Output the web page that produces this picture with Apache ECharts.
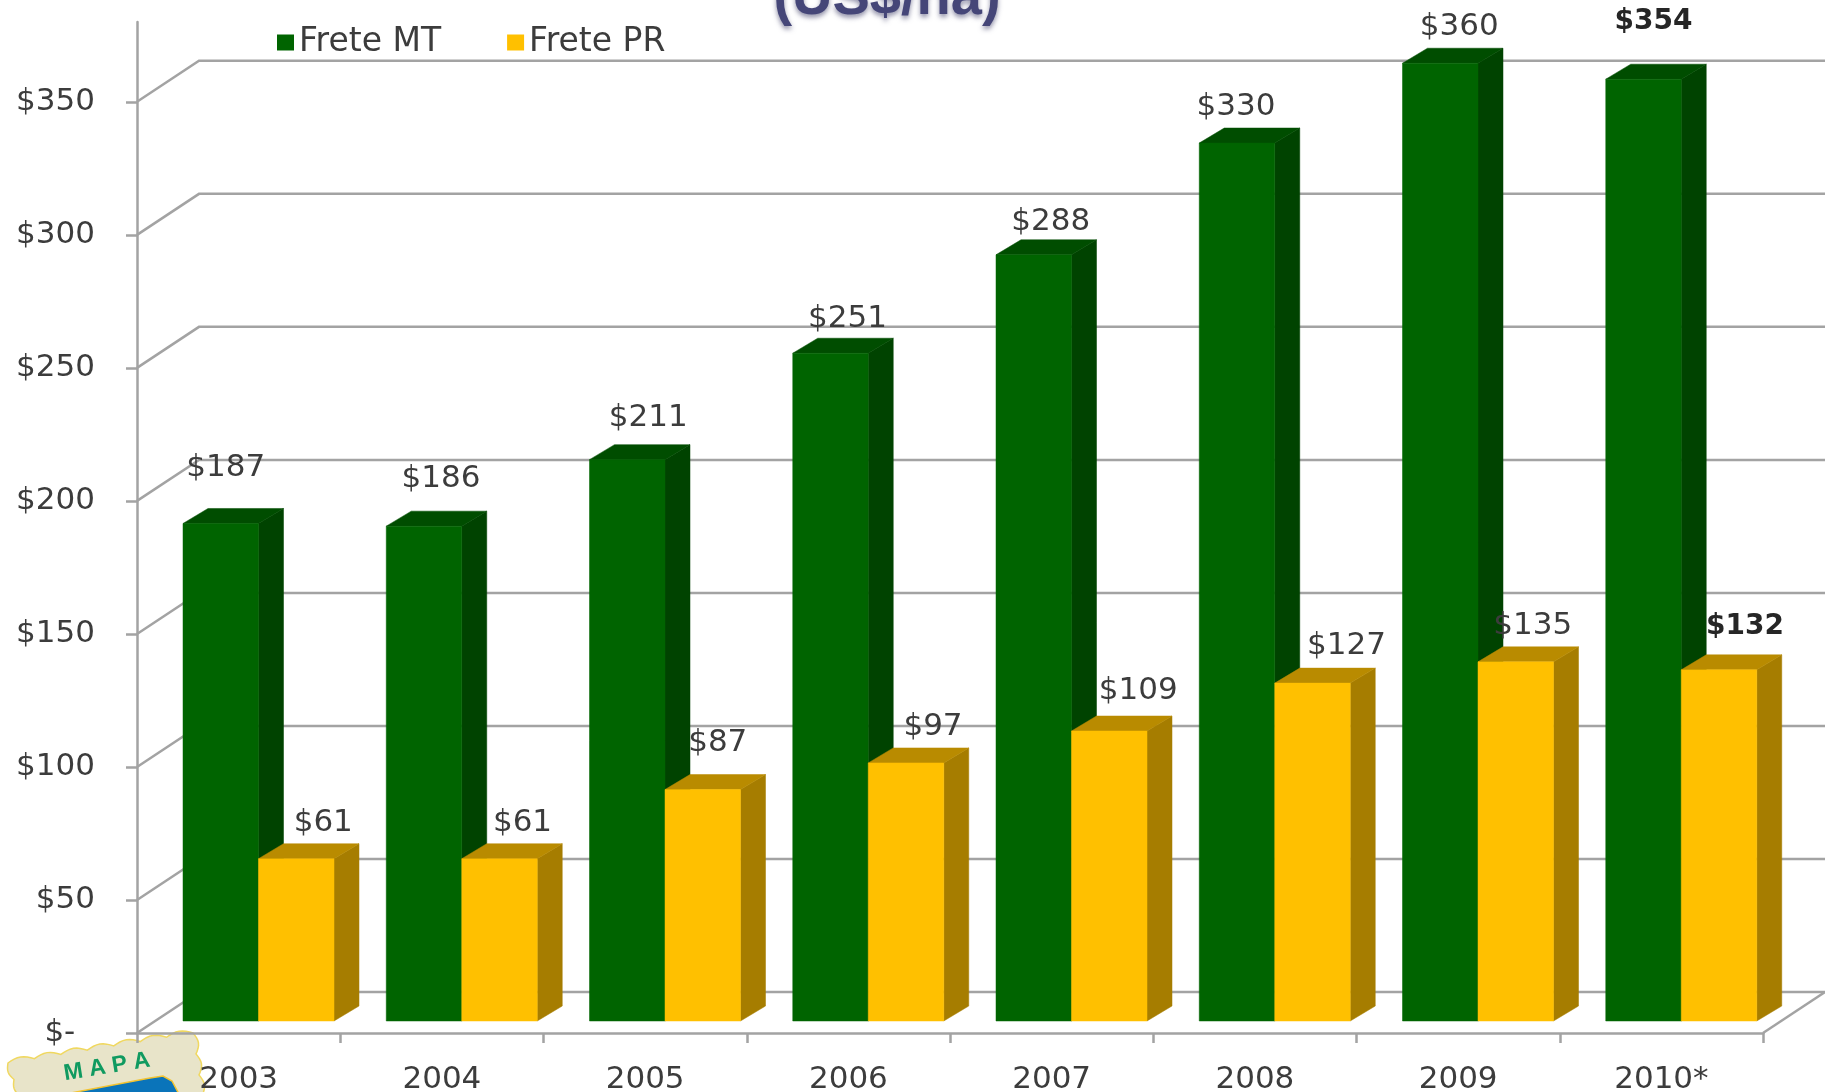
<!DOCTYPE html>
<html><head><meta charset="utf-8">
<style>html,body{margin:0;padding:0;background:#fff}#c{width:1825px;height:1092px;filter:blur(0.5px)}</style>
<script src="https://cdn.jsdelivr.net/npm/echarts@6/dist/echarts.min.js"></script>
</head><body><div id="c"></div>
<script>
const categories = ['2003','2004','2005','2006','2007','2008','2009','2010*'];
const freteMT = [187,186,211,251,288,330,360,354];
const fretePR = [61,61,87,97,109,127,135,132];
const yTicks = [0,50,100,150,200,250,300,350];
const titleText = '(US$/ha)';
// hand placement of the value labels relative to the bar's front-top centre
const nudgeMT = [[5,56],[17,47],[21,42],[17,34],[17,33],[-1,36],[19,36],[10,57]];
const nudgePR = [[27,36],[23,36],[15,47],[27,36],[29,40],[34,37],[17,36],[26,43]];
const boldIndex = 7;

const FONT = '"DejaVu Sans"', TXT = '#3c3c3c', GRID = '#a3a3a3';
const WALL = {dx:62, dy:41}, FLOOR = {dx:20, dy:12}, DEPTH = {dx:25, dy:15};
const INSET = 46, BAR_RATIO = 0.3715;

function barSeries(name, values, slot, colors, nudges) {
  return {
    name, type:'custom', z:3+slot, itemStyle:{color:colors.front},
    data: values.map((v,i)=>[i,v]), encode:{x:0,y:1},
    renderItem(params, api) {
      const i = api.value(0), v = api.value(1);
      const band = api.size([1,0])[0], w = band*BAR_RATIO;
      const base = api.coord([i,0]), top = api.coord([i,v]);
      const x0 = base[0]-band/2+INSET+slot*w, x1 = x0+w;
      const yb = base[1]-FLOOR.dy, yt = top[1]-FLOOR.dy;
      const bold = i===boldIndex, n = nudges[i];
      const poly = (points,fill)=>({type:'polygon',shape:{points},style:{fill,stroke:fill,lineWidth:0.5}});
      return {type:'group',children:[
        poly([[x1,yb],[x1+DEPTH.dx,yb-DEPTH.dy],[x1+DEPTH.dx,yt-DEPTH.dy],[x1,yt]],colors.side),
        poly([[x0,yt],[x0+DEPTH.dx,yt-DEPTH.dy],[x1+DEPTH.dx,yt-DEPTH.dy],[x1,yt]],colors.top),
        poly([[x0,yb],[x1,yb],[x1,yt],[x0,yt]],colors.front),
        {type:'text',style:{text:'$'+v,x:(x0+x1)/2+n[0],y:yt-n[1],align:'center',verticalAlign:'middle',
          font:(bold?'bold 28px ':'31px ')+FONT,fill:bold?'#262626':TXT}}
      ]};
    }
  };
}

// stamp outline: scalloped edges
function scallop(a,b,n,amp){const p=[];const s=n*8;const L=Math.hypot(b[0]-a[0],b[1]-a[1]);
  const nx=(b[1]-a[1])/L,ny=-(b[0]-a[0])/L;
  for(let k=0;k<s;k++){const t=k/s;const h=amp*Math.abs(Math.sin(Math.PI*t*n));
    p.push([a[0]+(b[0]-a[0])*t+nx*h,a[1]+(b[1]-a[1])*t+ny*h]);}return p;}
const stampPts=[...scallop([8,1063],[193,1033],7,4),...scallop([193,1033],[202,1096],3,4),[20,1096],...scallop([20,1096],[8,1063],2,3)];

const chart = echarts.init(document.getElementById('c'));
chart.setOption({
  animation:false, backgroundColor:'#fff',
  title:{text:titleText,left:882,top:-34,textAlign:'center',
    textStyle:{fontFamily:'"Liberation Sans"',fontWeight:'bold',fontSize:56,color:'#454678',
      textShadowColor:'rgba(70,70,110,.6)',textShadowBlur:5,textShadowOffsetY:3}},
  legend:{left:272,top:21,data:['Frete MT','Frete PR'],icon:'rect',itemWidth:17,itemHeight:16,itemGap:66,
    textStyle:{fontFamily:FONT,fontSize:33,color:TXT}},
  grid:{left:137,right:62,top:22,bottom:59,outerBoundsMode:'none'},
  xAxis:{type:'category',data:categories,boundaryGap:true,
    axisLine:{lineStyle:{color:GRID,width:2.5}},
    axisTick:{show:true,alignWithLabel:false,length:10,lineStyle:{color:GRID,width:2.5}},
    axisLabel:{fontFamily:FONT,fontSize:31,color:TXT,margin:31}},
  yAxis:{type:'value',min:0,max:380,interval:50,splitLine:{show:false},
    axisLine:{show:true,lineStyle:{color:GRID,width:2.5}},
    axisTick:{show:true,length:11,customValues:yTicks,lineStyle:{color:GRID,width:2.5}},
    axisLabel:{fontFamily:FONT,fontSize:31,color:TXT,margin:42,customValues:yTicks,padding:[6,0,0,0],
      formatter:v=>v===0?'$-  ':'$'+v}},
  series:[
    {type:'custom',z:1,silent:true,data:yTicks.map(v=>[0,v]),encode:{x:0,y:1},
      renderItem(params,api){
        const band=api.size([1,0])[0];
        const p=api.coord([0,api.value(1)]);
        const xL=p[0]-band/2, xR=params.coordSys.x+params.coordSys.width;
        const ls={stroke:GRID,lineWidth:2.5,fill:null};
        const ch=[{type:'polyline',shape:{points:[[xL,p[1]],[xL+WALL.dx,p[1]-WALL.dy],[xR+WALL.dx,p[1]-WALL.dy]]},style:ls}];
        if(api.value(1)===0)ch.push({type:'line',shape:{x1:xR,y1:p[1],x2:xR+WALL.dx,y2:p[1]-WALL.dy},style:ls});
        return {type:'group',children:ch};
      }},
    barSeries('Frete MT',freteMT,0,{front:'#006400',side:'#004300',top:'#004d00'},nudgeMT),
    barSeries('Frete PR',fretePR,1,{front:'#ffc000',side:'#a67d00',top:'#b98b00'},nudgePR)
  ],
  graphic:[
    {type:'polygon',z:0,shape:{points:stampPts},style:{fill:'#e8e4c9',stroke:'#f0d860',lineWidth:1.5}},
    {type:'polygon',z:0,shape:{points:[[55,1096],[150,1078],[163,1076],[172,1081],[180,1096]]},
      style:{fill:'#0a74ba',stroke:'#f4c430',lineWidth:1.5}},
    {type:'text',z:0,x:107,y:1067,rotation:0.16,style:{text:'M A P A',align:'center',verticalAlign:'middle',
      font:'bold 23px "Liberation Sans"',fill:'#109a60'}}
  ]
});
</script></body></html>
